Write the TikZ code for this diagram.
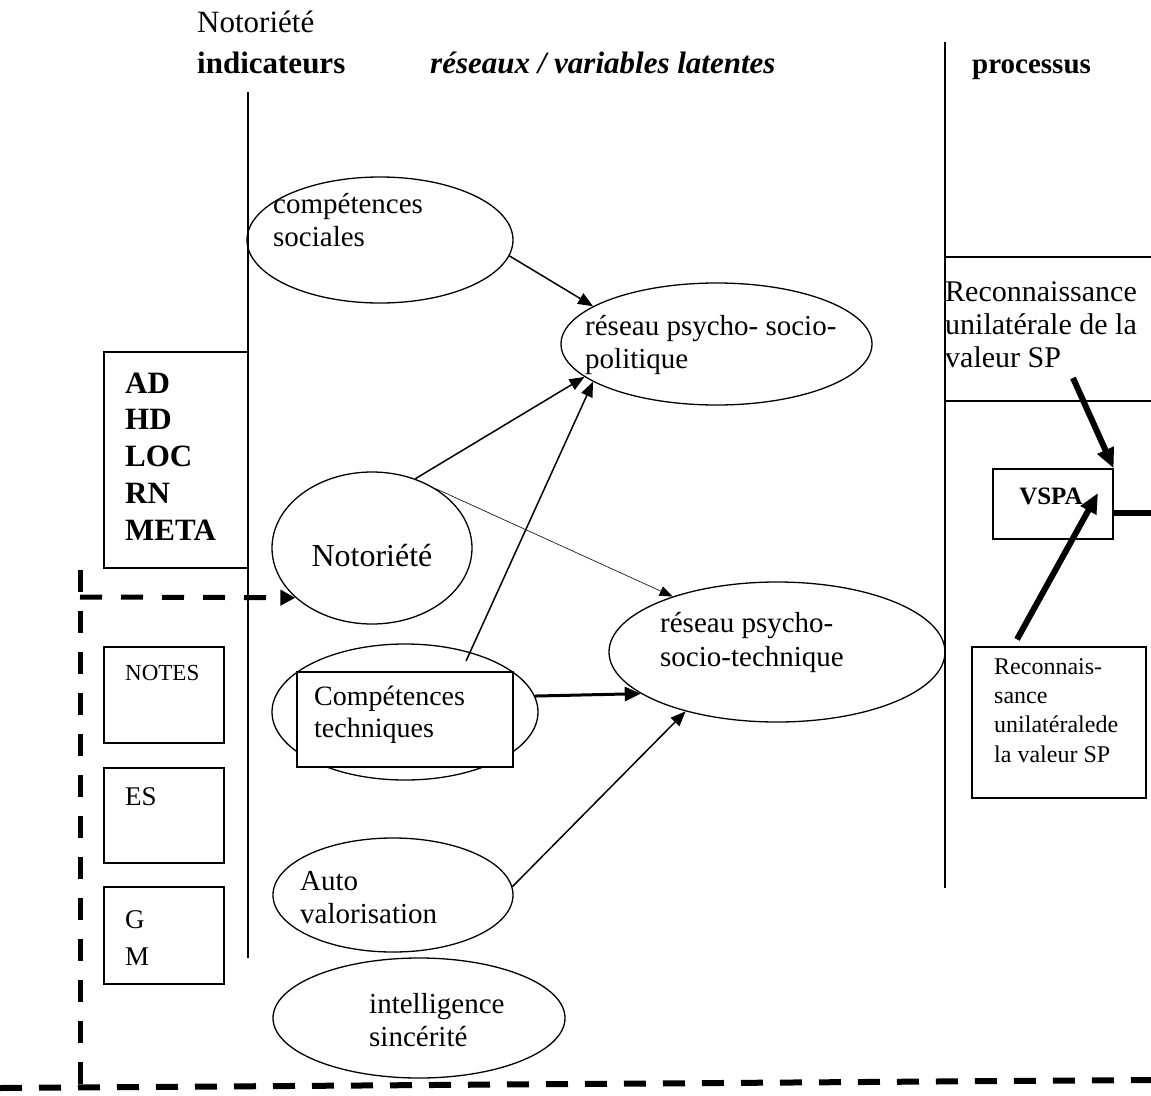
\documentclass[tikz,border=0pt]{standalone}
\usepackage{fontspec}
\setmainfont{Liberation Serif}
\usetikzlibrary{shapes.geometric,arrows.meta}
\newcommand\mytop{\rule{0pt}{0.8em}}
\begin{document}
\begin{tikzpicture}[x=1pt,y=-1pt,
  ell/.style={draw, ellipse, line width=1.3pt, inner sep=0pt},
  bx/.style={draw, rectangle, line width=1.3pt, inner sep=0pt, fill=white},
  lbl/.style={inner sep=0pt, anchor=north west, align=left},
  one/.style={inner sep=0pt, anchor=base west},
  sep/.style={line width=1.4pt},
  arr/.style={line width=1.5pt, -{Triangle[length=15pt,width=12pt]}},
  thinarr/.style={line width=0.6pt, -{Triangle[length=13pt,width=10pt]}},
  medarr/.style={line width=3pt, -{Triangle[length=16pt,width=14pt]}},
  bigarr/.style={line width=6pt, -{Triangle[length=20pt,width=17pt]}},
  dashln/.style={line width=5pt, dash pattern=on 22pt off 19pt},
  f29/.style={font=\fontsize{29}{33}\selectfont},
  f31/.style={font=\fontsize{31}{36}\selectfont}
]
\useasboundingbox[fill=white] (0,0) rectangle (1151,1095);

% headers
\node[one, f31] (hnot) at (197,32) {Notoriété};
\node[one, font=\fontsize{31}{36}\selectfont\bfseries] (hind) at (197,73) {indicateurs};
\node[one, font=\fontsize{31}{36}\selectfont\bfseries\itshape] (hres) at (430,73) {réseaux / variables latentes};
\node[one, font=\fontsize{29}{36}\selectfont\bfseries] (hpro) at (972,73) {processus};

% separators
\draw[sep] (248,92) -- (248,958);
\draw[sep] (945,42) -- (945,888);
\draw[line width=1.2pt] (945,257) -- (1151,257);
\draw[line width=1.2pt] (945,401) -- (1151,401);

% indicator boxes
\node[bx, minimum width=144pt, minimum height=216pt] (ind) at (176,460) {};
\node[lbl, font=\fontsize{31}{36.7}\selectfont\bfseries] (indt) at (125,368.2) {\mytop AD\\HD\\LOC\\RN\\META};
\node[bx, minimum width=120pt, minimum height=96pt] (notes) at (164,695) {};
\node[one, font=\fontsize{23}{27}\selectfont] (notest) at (125,680) {NOTES};
\node[bx, minimum width=120pt, minimum height=95pt] (es) at (164,815.5) {};
\node[one, font=\fontsize{27}{37}\selectfont] (est) at (125,805) {ES};
\node[bx, minimum width=120pt, minimum height=97pt] (gm) at (164,935.5) {};
\node[lbl, font=\fontsize{27}{37}\selectfont] (gmt) at (125,906.4) {\mytop G\\M};

% latent variables
\node[ell, minimum width=266pt, minimum height=126pt] (cs) at (380,240) {};
\node[lbl, f29] (cst) at (273,189.8) {\mytop compétences\\sociales};
\node[ell, minimum width=311pt, minimum height=122pt] (rpsp) at (716.5,344) {};
\node[lbl, f29] (rpspt) at (585,311.8) {\mytop réseau psycho- socio-\\politique};
\node[ell, minimum width=200pt, minimum height=152pt] (not) at (372,548) {};
\node[anchor=base, inner sep=0pt, font=\fontsize{32}{36}\selectfont] (nott) at (372,566) {Notoriété};
\node[ell, minimum width=266pt, minimum height=136pt] (ct) at (405,712) {};
\node[bx, minimum width=216pt, minimum height=95pt] (ctb) at (405,719.5) {};
\node[lbl, font=\fontsize{28}{32}\selectfont] (ctt) at (314,682.6) {\mytop Compétences\\techniques};
\node[ell, minimum width=336pt, minimum height=140pt] (rpst) at (777,652) {};
\node[lbl, font=\fontsize{29}{34}\selectfont] (rpstt) at (660,608.8) {\mytop réseau psycho-\\socio-technique};
\node[ell, minimum width=240pt, minimum height=114pt] (av) at (393,895) {};
\node[lbl, f29] (avt) at (300,866.8) {\mytop Auto\\valorisation};
\node[ell, minimum width=292pt, minimum height=120pt] (is) at (419,1018) {};
\node[lbl, f29] (ist) at (369,989.8) {\mytop intelligence\\sincérité};

% process column
\node[lbl, font=\fontsize{30}{33}\selectfont] (rec) at (945,277) {\mytop Reconnaissance\\unilatérale de la\\valeur SP};
\node[bx, minimum width=120pt, minimum height=70pt] (vspa) at (1053,504) {};
\node[anchor=base, inner sep=0pt, font=\fontsize{25}{30}\selectfont\bfseries] (vspat) at (1051,504) {VSPA};
\node[bx, minimum width=174pt, minimum height=151pt] (rec2) at (1059,722.5) {};
\node[lbl, font=\fontsize{24}{29.3}\selectfont] (rec2t) at (994,654.8) {\mytop Reconnais-\\sance\\unilatéralede\\la valeur SP};

% connectors
\draw[arr] (cs.-7) -- (rpsp.163);
\draw[arr] (not.58) -- (rpsp.194);
\draw[arr] ([yshift=-10pt]ct.45) -- (rpsp.197);
\draw[thinarr] (not.43) -- (rpst.152.3);
\draw[medarr] (ct.7.7) -- (rpst.197.4);
\draw[arr] (av.4) -- (rpst.213.7);
\coordinate (recS) at (1073,378);
\draw[bigarr] (recS) -- (vspa.north east);
\draw[bigarr] ([xshift=-42pt,yshift=7pt]rec2.north) -- ([xshift=45pt,yshift=11pt]vspa.center);
\coordinate (outR) at (1151,513);
\draw[line width=6pt] (vspa.east |- outR) -- (outR);

% dashed frame
\draw[dashln] (80,570) -- (80,1095);
\coordinate (dh) at (80,597);
\draw[dashln, -{Triangle[length=15pt,width=15pt]}] (dh) -- (not.213);
\draw[line width=6pt, dash pattern=on 22pt off 17pt] (0,1088) -- (1151,1080);
\end{tikzpicture}
\end{document}
